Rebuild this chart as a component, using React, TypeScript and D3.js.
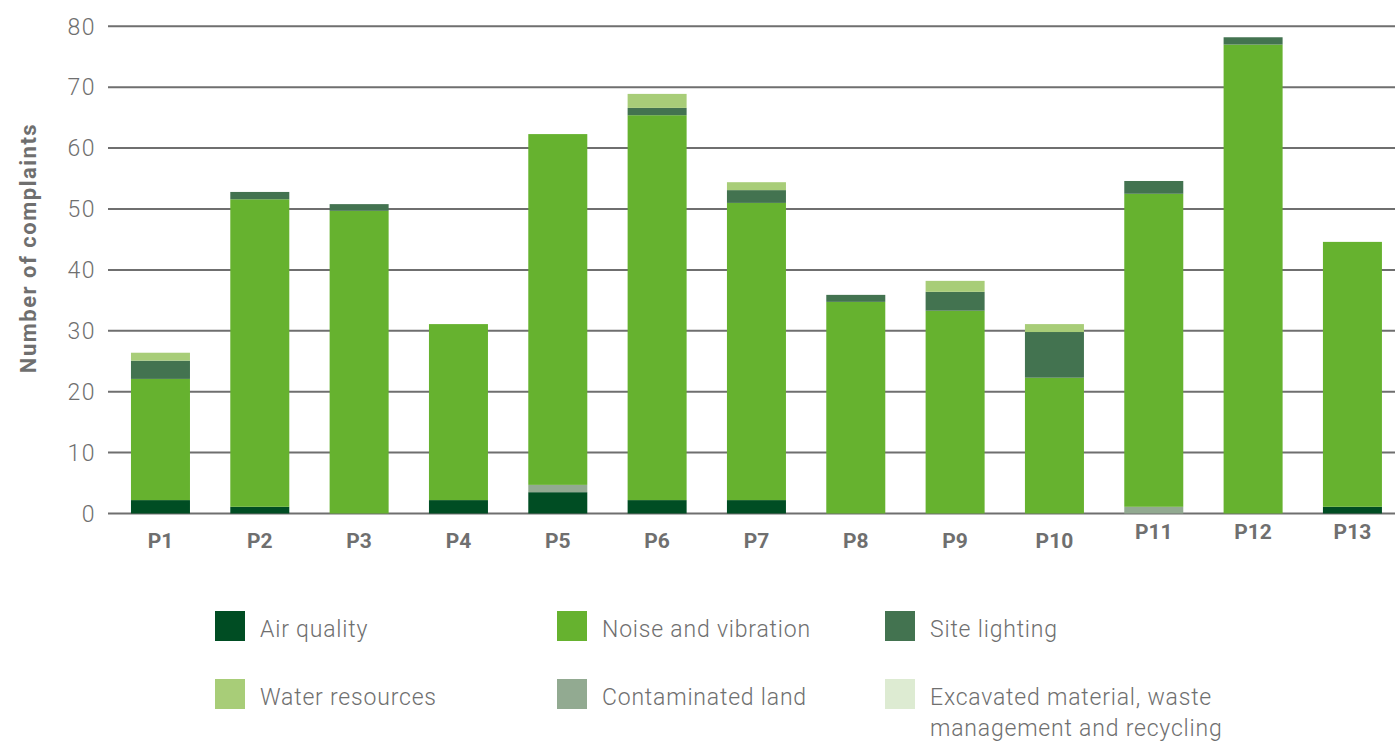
import React from "react";
import * as d3 from "d3";

const categories = ["P1","P2","P3","P4","P5","P6","P7","P8","P9","P10","P11","P12","P13"];
const airQuality =     [2.2, 1.1, 0, 2.2, 3.5, 2.2, 2.2, 0, 0, 0, 0, 0, 1.1];
const contaminated =   [0, 0, 0, 0, 1.2, 0, 0, 0, 0, 0, 1.1, 0, 0];
const noise =          [19.9, 50.5, 49.7, 28.9, 57.6, 63.2, 48.8, 34.75, 33.3, 22.3, 51.4, 77.0, 43.5];
const siteLighting =   [3.0, 1.2, 1.1, 0, 0, 1.2, 2.1, 1.15, 3.1, 7.5, 2.1, 1.2, 0];
const water =          [1.3, 0, 0, 0, 0, 2.3, 1.3, 0, 1.8, 1.3, 0, 0, 0];
const excavated =      [0, 0, 0, 0, 0, 0, 0, 0, 0, 0, 0, 0, 0];
const yTicks = [0, 10, 20, 30, 40, 50, 60, 70, 80];

const seriesDefs = [
  { key: "air", label: "Air quality", values: airQuality, color: "#004d23" },
  { key: "contaminated", label: "Contaminated land", values: contaminated, color: "#92aa91" },
  { key: "noise", label: "Noise and vibration", values: noise, color: "#66b22f" },
  { key: "lighting", label: "Site lighting", values: siteLighting, color: "#437350" },
  { key: "water", label: "Water resources", values: water, color: "#a8cd78" },
  { key: "excavated", label: "Excavated material, waste|management and recycling", values: excavated, color: "#ddebd2" },
];

const legendOrder = ["air", "noise", "lighting", "water", "contaminated", "excavated"];

const GREY = "#6f6f6f";
const FONT = "Roboto, 'Open Sans', sans-serif";

export default function App() {
  const W = 1395, H = 742;
  const x = d3.scaleBand<string>().domain(categories).range([110.8, 1402.1]).paddingInner(0.406).paddingOuter(0.203);
  const y = d3.scaleLinear().domain([0, 80]).range([513.5, 26.3]);

  const rows = categories.map((c, i) => {
    const r: any = { cat: c };
    seriesDefs.forEach(s => (r[s.key] = s.values[i]));
    return r;
  });
  const stack = d3.stack<any>().keys(seriesDefs.map(s => s.key));
  const stacked = stack(rows);

  const legendPos = [
    { x: 215, y: 611 }, { x: 557, y: 611 }, { x: 885, y: 611 },
    { x: 215, y: 679 }, { x: 557, y: 679 }, { x: 885, y: 679 },
  ];

  return (
    <svg width={W} height={H} style={{ position: "absolute", left: 0, top: 0, background: "#fff" }}>
      {yTicks.map(t => (
        <line key={t} x1={108} x2={1395} y1={y(t)} y2={y(t)} stroke={GREY} strokeWidth={2} />
      ))}
      {yTicks.map(t => (
        <text key={"t" + t} x={96} y={y(t)} dy="0.36em" textAnchor="end" fontFamily={FONT} fontWeight={300} fontSize={23} letterSpacing={1.5} fill={GREY}>{t}</text>
      ))}
      <text transform={`translate(36,248) rotate(-90)`} textAnchor="middle" fontFamily={FONT} fontWeight={700} fontSize={22} letterSpacing={1.5} fill={GREY}>Number of complaints</text>
      {stacked.map((layer, li) => (
        <g key={layer.key} fill={seriesDefs[li].color}>
          {layer.map((d, i) => {
            const h = y(d[0]) - y(d[1]);
            if (h <= 0) return null;
            return <rect key={i} x={x(categories[i])} y={y(d[1])} width={x.bandwidth()} height={h} />;
          })}
        </g>
      ))}
      {categories.map((c, i) => (
        <text key={c} x={(x(c) as number) + x.bandwidth() / 2} y={i >= 10 ? 539 : 548} textAnchor="middle" fontFamily={FONT} fontWeight={700} fontSize={21} fill={GREY}>{c}</text>
      ))}
      {legendOrder.map((k, i) => {
        const s = seriesDefs.find(d => d.key === k)!;
        const p = legendPos[i];
        const lines = s.label.split("|");
        return (
          <g key={k}>
            <rect x={p.x} y={p.y} width={30} height={30} fill={s.color} />
            {lines.map((ln, j) => (
              <text key={j} x={p.x + 45} y={p.y + 26 + j * 31} fontFamily={FONT} fontWeight={300} fontSize={23} letterSpacing={0.8} fill={GREY}>{ln}</text>
            ))}
          </g>
        );
      })}
    </svg>
  );
}
